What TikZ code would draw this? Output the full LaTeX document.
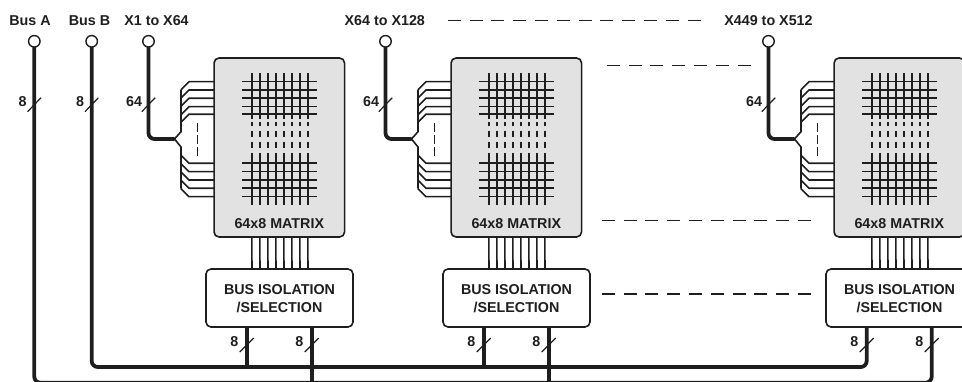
\documentclass[tikz,border=0pt]{standalone}
\usepackage{fontspec}
\setmainfont{Liberation Sans}
\usepackage{xcolor}
\definecolor{myink}{RGB}{30,30,30}
\definecolor{mygrey}{RGB}{226,226,226}
\usetikzlibrary{positioning, calc}

\begin{document}
\begin{tikzpicture}[
    x=1pt, y=-1pt, outer sep=0pt,
    lab/.style={inner sep=0pt, text=myink, align=center,
      font=\fontsize{14.3}{17.7}\selectfont\bfseries},
    matbox/.style={rectangle, rounded corners=5pt, draw=myink, line width=1.6pt,
      fill=mygrey, minimum width=130.5pt, minimum height=179pt},
    busbox/.style={rectangle, rounded corners=5pt, draw=myink, line width=1.6pt,
      fill=white, minimum width=147pt, minimum height=58pt, inner sep=0pt},
    term/.style={circle, draw=myink, line width=1.4pt, fill=white,
      minimum size=11.5pt, inner sep=0pt},
    wire/.style={draw=myink, line width=1.6pt},
    buswire/.style={draw=myink, line width=3.8pt, rounded corners=6pt},
    tickline/.style={draw=myink, line width=1.2pt},
    gapline/.style={draw=myink, line width=1.5pt, dash pattern=on 13pt off 8.8pt}
]
\useasboundingbox (0,0) rectangle (962,382);
\clip (0,0) rectangle (962,382);
\coordinate (rowB) at (0,367);
\coordinate (rowA) at (0,382.7);

%% Entrees des bus
\node[term] (termA) at (34.3,41.3) {};
\node[term] (termB) at (91.7,41.3) {};
\node[lab, above=9.6pt of termA, xshift=-4.3pt] (nameA) {Bus A};
\node[lab, above=9.6pt of termB, xshift=-2.2pt] (nameB) {Bus B};

%% Les trois blocs
\foreach \n/\xo/\tname/\tshift in {1/0/X1 to X64/8, 2/237/X64 to X128/-0.7, 3/620/X449 to X512/0} {
\begin{scope}[shift={(\xo,0)}]
  \node[matbox] (mat\n) at (279.3,147.5) {};
  \node[lab, above=8pt of mat\n.south] (matname\n) {64x8 MATRIX};
  \node[busbox, below=32pt of mat\n, xshift=0.2pt] (bus\n) {};
  \node[lab, yshift=-0.5pt] (busname\n) at (bus\n) {BUS ISOLATION\\/SELECTION};
  \node[term] (term\n) at (148.5,41.3) {};
  \node[lab, above=9.6pt of term\n, xshift=\tshift pt] (name\n) {\tname};
  \coordinate (fan\n) at (174.5,139);
  \coordinate (tick\n) at (148.5,104.7);
  \coordinate (lega\n) at ([xshift=-32.8pt]bus\n.south);
  \coordinate (legb\n) at ([xshift=32.2pt]bus\n.south);

  %% Grille
  \foreach \hy in {81.7,90,98.3,106.7,114.3,163.3,171.7,180,188.3,196.7}
    \draw[wire] (242,\hy) -- (317.3,\hy);
  \foreach \vx in {251.7,259.7,267.7,275.7,283.7,291.7,299.7,307.7}
    \foreach \va/\vb in {73/119,122/126,130.7/137.3,141.7/148.3,152.7/205}
      \draw[wire] (\vx,\va) -- (\vx,\vb);

  %% Eventail
  \draw[buswire] (term\n.south) |- (fan\n);
  \draw[wire] (fan\n) -- (181,131.7) -- (181,89.7);
  \draw[wire] (fan\n) -- (181,147) -- (181,188.7);
  \foreach \hy in {81.7,90,98.3,106.7,114.3}
    \draw[wire] (181,\hy+8) -- (189,\hy) -- (mat\n.west |- 0,\hy);
  \foreach \hy in {163.3,171.7,180,188.3,196.7}
    \draw[wire] (181,\hy-8) -- (189,\hy) -- (mat\n.west |- 0,\hy);
  \draw[wire, dash pattern=on 9pt off 3.4pt] (197.3,122.7) -- (197.3,156.7);

  %% Liaisons matrice - isolation
  \foreach \sx in {-27.5,-19.5,-11.5,-3.5,4.5,12.5,20.5,28.5}
    \draw[wire] ([xshift=\sx pt]mat\n.south) -- ([xshift=\sx pt]bus\n.north);

  \draw[tickline] ([shift={(-6.7,7)}]tick\n) -- ([shift={(6.7,-7)}]tick\n);
  \node[lab, anchor=east] (width\n) at ([xshift=-6.4pt, yshift=2.7pt]tick\n) {64};
\end{scope}
}

%% Bus
\draw[buswire] (termA.south) |- (legb3 |- rowA) -- (legb3);
\draw[buswire] (termB.south) |- (lega3 |- rowB) -- (lega3);
\foreach \n in {1,2} {
  \draw[buswire] (lega\n) -- (lega\n |- rowB);
  \draw[buswire] (legb\n) -- (legb\n |- rowA);
}

%% Marques de largeur
\foreach \k/\tx/\ty in {ta/34.3/104.7, tb/91.7/104.7} {
  \coordinate (\k) at (\tx,\ty);
  \draw[tickline] ([shift={(-6.7,7)}]\k) -- ([shift={(6.7,-7)}]\k);
  \node[lab, anchor=east] (width\k) at ([xshift=-7.6pt, yshift=2.7pt]\k) {8};
}
\foreach \n in {1,2,3} {
  \foreach \side in {a,b} {
    \coordinate (tk\side\n) at (leg\side\n |- 0,345);
    \draw[tickline] ([shift={(-7,7)}]tk\side\n) -- ([shift={(7,-7)}]tk\side\n);
    \node[lab, anchor=east] (wd\side\n) at ([xshift=-8.4pt, yshift=3.3pt]tk\side\n) {8};
  }
}

%% Pointilles entre les blocs
\foreach \m/\xa/\xb/\ya in {1/447.7/700.5/20.3, 2/606.7/750.5/65.7, 3/601.7/810.7/220.5, 4/601.7/810.7/294} {
  \coordinate (gapa\m) at (\xa,\ya);
  \coordinate (gapb\m) at (\xb,\ya);
  \draw[gapline] (gapa\m) -- (gapb\m);
}
\end{tikzpicture}
\end{document}
